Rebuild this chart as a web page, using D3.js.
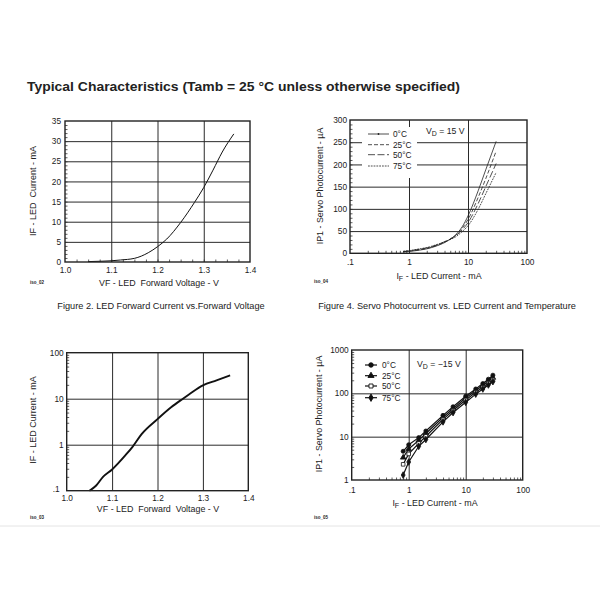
<!DOCTYPE html>
<html>
<head>
<meta charset="utf-8">
<script src="https://cdn.jsdelivr.net/npm/d3@7"></script>
<style>
  body { margin: 0; background: #fff; }
  text { font-family: "Liberation Sans", Arial, sans-serif; fill: #222; white-space: pre; }
</style>
</head>
<body>
<script>

// Figure 2, linear: LED forward voltage (V) vs forward current (mA)
var vfLin = [1.05, 1.08, 1.10, 1.12, 1.15, 1.18, 1.20, 1.22, 1.25, 1.28, 1.30, 1.32, 1.34, 1.365];
var ifLin = [0.1, 0.2, 0.3, 0.5, 0.9, 2.3, 3.8, 5.7, 9.8, 14.8, 18.5, 22.8, 27.3, 31.8];

// Figure 2, log version
var vfLog = [1.05, 1.065, 1.08, 1.10, 1.13, 1.145, 1.165, 1.20, 1.23, 1.256, 1.27, 1.30, 1.33, 1.36];
var ifLog = [0.1, 0.13, 0.2, 0.29, 0.6, 0.9, 1.7, 3.6, 6.5, 10, 12.5, 19.5, 25, 32];

// Figure 4, VD = 15 V: servo photocurrent (uA) vs LED current (mA)
var tempLabels = ["0°C", "25°C", "50°C", "75°C"];
var ifServo = [0.8, 1, 1.5, 2, 3, 4, 5, 6, 8, 10, 15, 20, 30];
var ipServo0  = [3.0, 4.0, 7, 10, 17, 24, 32, 40, 60, 84, 142, 188, 252];
var ipServo25 = [3.5, 5.0, 8, 11, 18, 25, 32, 39, 57, 76, 127, 168, 230];
var ipServo50 = [4.0, 5.5, 9, 12, 19, 26, 32, 38, 53, 69, 113, 150, 202];
var ipServo75 = [4.5, 6.0, 10, 13, 20, 26, 31, 36, 49, 62, 100, 134, 182];

// Figure 4, VD = -15 V (log-log, with markers)
var ifServoNeg = [0.8, 1, 1.5, 2, 4, 6, 10, 15, 20, 25, 30];
var ipNeg0  = [4.6, 6.5, 9.5, 13.5, 31, 49, 86, 126, 168, 212, 262];
var ipNeg25 = [3.3, 5.2, 8.2, 11.8, 28, 44, 78, 116, 152, 188, 230];
var ipNeg50 = [2.3, 4.0, 7.0, 10.2, 25, 40, 70, 106, 138, 172, 206];
var ipNeg75 = [1.3, 2.6, 6.0, 8.6, 22, 36, 62, 96, 126, 156, 186];

// tick labels
var vfTicks = [1.0, 1.1, 1.2, 1.3, 1.4];
var ifLinTicks = [0, 5, 10, 15, 20, 25, 30, 35];
var ifLogTicks = [0.1, 1, 10, 100];
var ledTicks = [0.1, 1, 10, 100];
var ipLinTicks = [0, 50, 100, 150, 200, 250, 300];
var ipLogTicks = [1, 10, 100, 1000];

var FONT = "Liberation Sans, Arial, sans-serif";

var svg = d3.select("body").append("svg")
            .attr("width", 600)
            .attr("height", 600);

function fmtDot(d) { return d < 1 ? ".1" : String(d); }
function fmtOne(d) { return d3.format(".1f")(d); }

// grid, minor ticks and tick labels of one panel
function drawAxes(p) {
  var x = p.x, y = p.y;
  var x0 = x.range()[0], x1 = x.range()[1],
      y0 = y.range()[0], y1 = y.range()[1];
  var g = svg.append("g");

  g.append("g").attr("class", "grid").attr("transform", "translate(0," + y0 + ")")
   .call(d3.axisBottom(x).tickValues(p.xGrid).tickSize(-(y0 - y1)).tickFormat(""));
  g.append("g").attr("class", "grid").attr("transform", "translate(" + x0 + ",0)")
   .call(d3.axisLeft(y).tickValues(p.yGrid).tickSize(-(x1 - x0)).tickFormat(""));

  g.append("g").attr("class", "minor").attr("transform", "translate(0," + y0 + ")")
   .call(d3.axisBottom(x).tickValues(p.xMinor).tickSize(-2.5).tickFormat(""));
  g.append("g").attr("class", "minor").attr("transform", "translate(" + x0 + ",0)")
   .call(d3.axisLeft(y).tickValues(p.yMinor).tickSize(-2.5).tickFormat(""));

  g.append("g").attr("class", "lab").attr("transform", "translate(0," + y0 + ")")
   .call(d3.axisBottom(x).tickValues(p.xTicks).tickSize(0).tickPadding(p.padX).tickFormat(p.xFmt));
  g.append("g").attr("class", "lab ylab").attr("transform", "translate(" + x0 + ",0)")
   .call(d3.axisLeft(y).tickValues(p.yTicks).tickSize(0).tickPadding(p.padY).tickFormat(p.yFmt));

  g.selectAll(".domain").remove();
  g.selectAll(".grid line").attr("stroke", "#2a2a2a").attr("stroke-width", 1);
  g.selectAll(".minor line").attr("stroke", "#333").attr("stroke-width", 0.8);
  g.selectAll(".lab").attr("font-family", FONT).attr("font-size", 8.3).attr("color", "#333");
  return g;
}

function drawFrame(x, y) {
  svg.append("rect")
     .attr("x", x.range()[0]).attr("y", y.range()[1])
     .attr("width", x.range()[1] - x.range()[0])
     .attr("height", y.range()[0] - y.range()[1])
     .attr("fill", "none").attr("stroke", "#222").attr("stroke-width", 1.4);
}

function label(txt, x, y, size, rotate, anchor) {
  var t = svg.append("text")
     .attr("x", x).attr("y", y)
     .attr("font-size", size)
     .attr("text-anchor", anchor || "middle")
     .text(txt);
  if (rotate) t.attr("transform", "rotate(-90," + x + "," + y + ")");
  return t;
}

// text with a subscript, e.g. I_F or V_D
function subLabel(main, sub, rest, x, y, size, anchor) {
  var t = svg.append("text")
     .attr("x", x).attr("y", y)
     .attr("font-size", size)
     .attr("text-anchor", anchor || "middle");
  t.append("tspan").text(main);
  t.append("tspan").attr("dy", 2).attr("font-size", size * 0.8).text(sub);
  t.append("tspan").attr("dy", -2).text(rest);
  return t;
}

// ---- title ----
svg.append("text")
   .attr("x", 27).attr("y", 91)
   .attr("font-size", 12.5).attr("font-weight", "bold")
   .attr("textLength", 433).attr("lengthAdjust", "spacingAndGlyphs")
   .attr("fill", "#111")
   .text("Typical Characteristics (Tamb = 25 °C unless otherwise specified)");

// ---- Fig 2 linear (top left) ----
var xA = d3.scaleLinear().domain([1.0, 1.4]).range([65, 250]);
var yA = d3.scaleLinear().domain([0, 35]).range([262, 121]);

drawAxes({
  x: xA, y: yA,
  xGrid: [1.1, 1.2, 1.3], yGrid: [5, 10, 15, 20, 25, 30],
  xMinor: d3.range(1.025, 1.4, 0.025), yMinor: d3.range(1, 35, 1),
  xTicks: vfTicks, yTicks: ifLinTicks,
  xFmt: fmtOne, yFmt: d3.format("d"),
  padX: 5, padY: 4
});

svg.append("path")
   .datum(d3.zip(vfLin, ifLin))
   .attr("fill", "none").attr("stroke", "#111").attr("stroke-width", 1)
   .attr("d", d3.line().x(function(d) { return xA(d[0]); })
                        .y(function(d) { return yA(d[1]); })
                        .curve(d3.curveMonotoneX));
drawFrame(xA, yA);

label("VF - LED  Forward Voltage - V", 159, 285.5, 8.9);
label("IF - LED  Current - mA", 36, 191, 9, true);
label("iso_02", 30, 284, 4.5, false, "start").attr("font-weight", "bold");
label("Figure 2. LED Forward Current vs.Forward Voltage", 161, 309, 9.2);

// ---- Fig 4, VD = 15 V (top right) ----
var xB = d3.scaleLog().domain([0.1, 100]).range([350, 527]);
var yB = d3.scaleLinear().domain([0, 300]).range([253.3, 120]);
var logMinorB = xB.ticks().filter(function(d) { return ledTicks.indexOf(d) < 0; });

drawAxes({
  x: xB, y: yB,
  xGrid: [1, 10], yGrid: [50, 100, 150, 200, 250],
  xMinor: logMinorB, yMinor: d3.range(10, 300, 10),
  xTicks: ledTicks, yTicks: ipLinTicks,
  xFmt: fmtDot, yFmt: d3.format("d"),
  padX: 6, padY: 3
});

// legend box hides the grid behind it
svg.append("rect").attr("x", 362).attr("y", 127).attr("width", 55).attr("height", 51).attr("fill", "#fff");

var seriesB = [ipServo0, ipServo25, ipServo50, ipServo75];
var dashB = [null, "4,2", "7,2.5", "1.8,1"];
var lineB = d3.line().x(function(d) { return xB(d[0]); })
                     .y(function(d) { return yB(d[1]); })
                     .curve(d3.curveMonotoneX);

seriesB.forEach(function(s, i) {
  svg.append("path")
     .datum(d3.zip(ifServo, s))
     .attr("fill", "none").attr("stroke", "#222").attr("stroke-width", 0.8)
     .attr("stroke-dasharray", dashB[i])
     .attr("d", lineB);
});
drawFrame(xB, yB);

var legB = svg.append("g");
tempLabels.forEach(function(t, i) {
  var ly = [134, 144.7, 154.7, 166][i];
  legB.append("line").attr("x1", 368).attr("x2", 389).attr("y1", ly).attr("y2", ly)
      .attr("stroke", "#222").attr("stroke-width", 0.8).attr("stroke-dasharray", dashB[i]);
  legB.append("text").attr("x", 393).attr("y", ly + 3).attr("font-size", 8.3).text(t);
});
legB.append("circle").attr("cx", 378.5).attr("cy", 134).attr("r", 0.9).attr("fill", "#222");

subLabel("V", "D", " = 15 V", 426, 134, 8.7, "start");
subLabel("I", "F", " - LED Current - mA", 439, 278.5, 8.9);
label("IP1 - Servo Photocurrent - µA", 323, 186, 8.9, true);
label("iso_04", 314, 283, 4.5, false, "start").attr("font-weight", "bold");
label("Figure 4. Servo Photocurrent vs. LED Current and Temperature", 447, 309, 9.2);

// ---- Fig 2 log (bottom left) ----
var xC = d3.scaleLinear().domain([1.0, 1.4]).range([66.7, 248.3]);
var yC = d3.scaleLog().domain([0.1, 100]).range([490.7, 352.7]);
var logMinorC = yC.ticks().filter(function(d) { return ifLogTicks.indexOf(d) < 0; });

var axesC = drawAxes({
  x: xC, y: yC,
  xGrid: [1.1, 1.2, 1.3], yGrid: [1, 10],
  xMinor: [], yMinor: logMinorC,
  xTicks: vfTicks, yTicks: ifLogTicks,
  xFmt: fmtOne, yFmt: fmtDot,
  padX: 4, padY: 3
});

// ".1" sits a little further left and up, clear of the "1.0" label
axesC.selectAll(".ylab .tick")
     .filter(function(d) { return d == 0.1; })
     .select("text").attr("dx", -4).attr("dy", "0.1em");

svg.append("path")
   .datum(d3.zip(vfLog, ifLog))
   .attr("fill", "none").attr("stroke", "#111").attr("stroke-width", 1.9)
   .attr("d", d3.line().x(function(d) { return xC(d[0]); })
                        .y(function(d) { return yC(d[1]); })
                        .curve(d3.curveMonotoneX));
drawFrame(xC, yC);

label("VF - LED  Forward  Voltage - V", 158, 512, 8.9);
label("IF - LED Current - mA", 36, 420, 9, true);
label("iso_03", 30, 519, 4.5, false, "start").attr("font-weight", "bold");

// ---- Fig 4, VD = -15 V (bottom right) ----
var xD = d3.scaleLog().domain([0.1, 100]).range([351.7, 522.7]);
var yD = d3.scaleLog().domain([1, 1000]).range([480, 350]);
var logMinorDx = xD.ticks().filter(function(d) { return ledTicks.indexOf(d) < 0; });
var logMinorDy = yD.ticks().filter(function(d) { return ipLogTicks.indexOf(d) < 0; });

drawAxes({
  x: xD, y: yD,
  xGrid: [1, 10], yGrid: [10, 100],
  xMinor: logMinorDx, yMinor: logMinorDy,
  xTicks: ledTicks, yTicks: ipLogTicks,
  xFmt: fmtDot, yFmt: d3.format("d"),
  padX: 7, padY: 3
});

var seriesD = [ipNeg0, ipNeg25, ipNeg50, ipNeg75];
var symbolsD = [d3.symbolCircle, d3.symbolTriangle, d3.symbolSquare, d3.symbolDiamond];
var lineD = d3.line().x(function(d) { return xD(d[0]); })
                     .y(function(d) { return yD(d[1]); });

seriesD.forEach(function(s, i) {
  var pts = d3.zip(ifServoNeg, s);
  svg.append("path")
     .datum(pts)
     .attr("fill", "none").attr("stroke", "#111").attr("stroke-width", 1.2)
     .attr("d", lineD);
  svg.selectAll(".mark" + i)
     .data(pts)
     .enter().append("path")
     .attr("class", "mark" + i)
     .attr("transform", function(d) { return "translate(" + xD(d[0]) + "," + yD(d[1]) + ")"; })
     .attr("d", d3.symbol().type(symbolsD[i]).size(13))
     .attr("fill", i == 2 ? "#fff" : "#111")
     .attr("stroke", "#111").attr("stroke-width", 0.8);
});
drawFrame(xD, yD);

var legD = svg.append("g");
tempLabels.forEach(function(t, i) {
  var ly = [365, 375.7, 386, 397.7][i];
  legD.append("line").attr("x1", 365).attr("x2", 377).attr("y1", ly).attr("y2", ly)
      .attr("stroke", "#111").attr("stroke-width", 1.2);
  legD.append("path").attr("transform", "translate(371," + ly + ")")
      .attr("d", d3.symbol().type(symbolsD[i]).size(16))
      .attr("fill", i == 2 ? "#fff" : "#111").attr("stroke", "#111").attr("stroke-width", 0.9);
  legD.append("text").attr("x", 382).attr("y", ly + 3).attr("font-size", 8.3).text(t);
});

subLabel("V", "D", " = \u221215 V", 417, 367, 8.7, "start");
subLabel("I", "F", " - LED Current - mA", 435, 506, 8.9);
label("IP1 - Servo Photocurrent - µA", 322, 414, 8.9, true);
label("iso_05", 314, 519, 4.5, false, "start").attr("font-weight", "bold");

// faint page rule at the bottom
svg.append("line").attr("x1", 0).attr("x2", 600).attr("y1", 526).attr("y2", 526)
   .attr("stroke", "#e4e4e4").attr("stroke-width", 1);

</script>
</body>
</html>
